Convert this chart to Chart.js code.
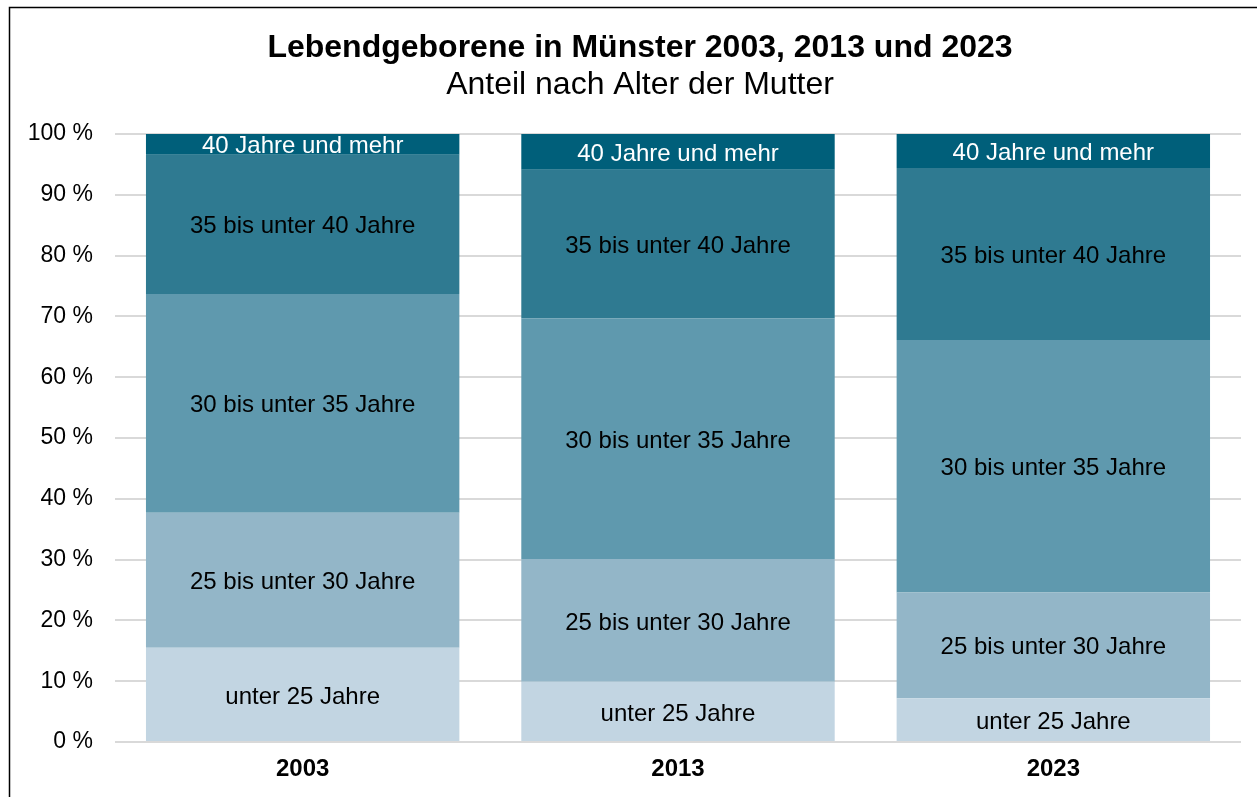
<!DOCTYPE html>
<html>
<head>
<meta charset="utf-8">
<script src="https://cdn.jsdelivr.net/npm/chart.js@4/dist/chart.umd.min.js"></script>
<style>
html,body{margin:0;padding:0;background:#fff;}
#wrap{position:absolute;left:0;top:0;width:1257px;height:797px;}
</style>
</head>
<body>
<div id="wrap"><canvas id="c" width="1257" height="797"></canvas></div>
<script>
const categories = ["2003", "2013", "2023"];
const seriesNames = ["unter 25 Jahre", "25 bis unter 30 Jahre", "30 bis unter 35 Jahre", "35 bis unter 40 Jahre", "40 Jahre und mehr"];
const unter25 = [15.5, 9.9, 7.2];
const von25bis30 = [22.2, 20.2, 17.4];
const von30bis35 = [36.0, 39.6, 41.5];
const von35bis40 = [22.9, 24.4, 28.3];
const ab40 = [3.4, 5.9, 5.6];
const yTicks = [0, 10, 20, 30, 40, 50, 60, 70, 80, 90, 100];
const titleText = "Lebendgeborene in Münster 2003, 2013 und 2023";
const subtitleText = "Anteil nach Alter der Mutter";

const colors = ["#C2D5E2", "#93B6C8", "#5F99AE", "#2F7A91", "#005F7A"];
const labelColors = ["#000", "#000", "#000", "#000", "#fff"];
const seriesValues = [unter25, von25bis30, von30bis35, von35bis40, ab40];
const FONT = "'Liberation Sans', Arial, sans-serif";

const framePlugin = {
  id: 'frame',
  beforeDraw(chart) {
    const ctx = chart.ctx;
    ctx.save();
    ctx.fillStyle = '#fff';
    ctx.fillRect(0, 0, chart.width, chart.height);
    ctx.strokeStyle = '#000';
    ctx.lineWidth = 1.5;
    ctx.beginPath();
    ctx.moveTo(9.5, chart.height + 2);
    ctx.lineTo(9.5, 7.5);
    ctx.lineTo(chart.width + 2, 7.5);
    ctx.stroke();
    // title and subtitle
    ctx.fillStyle = '#000';
    ctx.textAlign = 'center';
    ctx.textBaseline = 'middle';
    ctx.font = "bold 32px " + FONT;
    ctx.fillText(titleText, 640, 48);
    ctx.font = "32px " + FONT;
    ctx.fillText(subtitleText, 640, 85);
    ctx.restore();
  }
};

const labelPlugin = {
  id: 'segLabels',
  afterDatasetsDraw(chart) {
    const ctx = chart.ctx;
    ctx.save();
    ctx.font = "24px " + FONT;
    ctx.textAlign = 'center';
    ctx.textBaseline = 'middle';
    chart.data.datasets.forEach((ds, i) => {
      const meta = chart.getDatasetMeta(i);
      meta.data.forEach((el) => {
        ctx.fillStyle = labelColors[i];
        ctx.fillText(ds.label, el.x, (el.y + el.base) / 2 + 2.5);
      });
    });
    ctx.restore();
  }
};

new Chart(document.getElementById('c'), {
  type: 'bar',
  data: {
    labels: categories,
    datasets: seriesNames.map((n, i) => ({
      label: n,
      data: seriesValues[i],
      backgroundColor: colors[i],
      borderWidth: 0,
      categoryPercentage: 1.0,
      barPercentage: 0.835
    }))
  },
  options: {
    responsive: false,
    animation: false,
    devicePixelRatio: 1,
    layout: { padding: { left: 0, right: 16, top: 134, bottom: 0 } },
    plugins: {
      legend: { display: false },
      tooltip: { enabled: false },
      title: { display: false },
      subtitle: { display: false }
    },
    scales: {
      x: {
        stacked: true,
        grid: { display: false, drawTicks: false },
        border: { display: false },
        ticks: { color: '#000', font: { family: FONT, size: 24, weight: 'bold', lineHeight: 1.0 }, padding: 15.5 }
      },
      y: {
        stacked: true,
        min: 0,
        max: 100,
        afterFit(scale) { scale.width = 115; },
        afterBuildTicks(scale) { scale.ticks = yTicks.map(v => ({ value: v })); },
        grid: { color: '#d9d9d9', lineWidth: 2, drawTicks: false },
        border: { display: false },
        ticks: {
          color: '#000',
          font: { family: FONT, size: 23 },
          padding: 22,
          callback: (v) => v + ' %'
        }
      }
    }
  },
  plugins: [framePlugin, labelPlugin]
});
</script>
</body>
</html>
